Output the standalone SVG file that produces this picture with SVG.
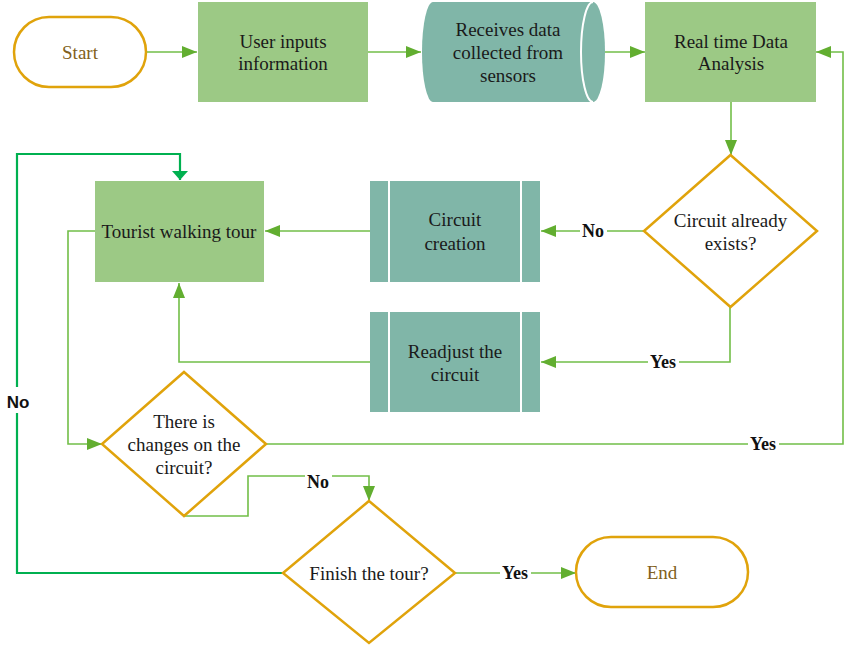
<svg xmlns="http://www.w3.org/2000/svg" width="850" height="663" viewBox="0 0 850 663">
<defs>
<marker id="ah" markerUnits="userSpaceOnUse" markerWidth="15" markerHeight="12" refX="15" refY="6" orient="auto">
<path d="M0,0 L15,6 L0,12 Z" fill="#62AE30"/>
</marker>
<marker id="ahd" markerUnits="userSpaceOnUse" markerWidth="9" markerHeight="16" refX="9" refY="8" orient="auto">
<path d="M0,0 L9,8 L0,16 Z" fill="#00B050"/>
</marker>
</defs>
<style>
.t{font-family:"Liberation Serif","Times New Roman",serif;font-size:19px;fill:#1a1a1a;text-anchor:middle;dominant-baseline:central}
.term{fill:#fff;stroke:#E0A30B;stroke-width:2.5}
.tt{fill:#7F6020}
.gbox{fill:#9CC985}
.teal{fill:#80B6A8}
.dia{fill:#fff;stroke:#E0A30B;stroke-width:2.5}
.sep{stroke:#fff;stroke-width:2}
.c{fill:none;stroke:#72BE48;stroke-width:1.6}
.cd{fill:none;stroke:#00B050;stroke-width:2.2}
.lb{font-family:"Liberation Serif","Times New Roman",serif;font-size:18px;font-weight:bold;fill:#111;text-anchor:middle;dominant-baseline:central}
.lbs{font-family:"Liberation Sans",Arial,sans-serif;font-size:17px;font-weight:bold;fill:#111;text-anchor:middle;dominant-baseline:central}
.bg{fill:#fff}
</style>
<rect width="850" height="663" fill="#fff"/>

<g id="connectors">
<path class="c" d="M146,52 H197" marker-end="url(#ah)"/>
<path class="c" d="M368,52 H421" marker-end="url(#ah)"/>
<path class="c" d="M605,52 H645" marker-end="url(#ah)"/>
<path class="c" d="M731,102 V155" marker-end="url(#ah)"/>
<path class="c" d="M644,231 H541" marker-end="url(#ah)"/>
<path class="c" d="M730,307 V362 H541" marker-end="url(#ah)"/>
<path class="c" d="M370,231 H265" marker-end="url(#ah)"/>
<path class="c" d="M370,362 H179 V283" marker-end="url(#ah)"/>
<path class="c" d="M95,231 H68 V444 H102" marker-end="url(#ah)"/>
<path class="c" d="M266,444 H843 V52 H816" marker-end="url(#ah)"/>
<path class="c" d="M184,516 H248 V476 H369 V501" marker-end="url(#ah)"/>
<path class="c" d="M455,573 H576" marker-end="url(#ah)"/>
<path class="cd" d="M283,573 H17 V154 H180 V180" marker-end="url(#ahd)"/>
<rect class="bg" x="580" y="221" width="27" height="20"/>
<text class="lb" x="593" y="231">No</text>
<rect class="bg" x="648" y="352" width="31" height="20"/>
<text class="lb" x="663" y="362">Yes</text>
<rect class="bg" x="748" y="434" width="31" height="20"/>
<text class="lb" x="763" y="444">Yes</text>
<rect class="bg" x="305" y="472" width="27" height="20"/>
<text class="lb" x="318" y="482">No</text>
<rect class="bg" x="500" y="563" width="31" height="20"/>
<text class="lb" x="515" y="573">Yes</text>
<rect class="bg" x="4" y="387" width="28" height="26"/>
<text class="lbs" x="18" y="402">No</text>
</g>

<g id="start">
<rect class="term" x="14" y="17" width="132" height="70" rx="35"/>
<text class="t tt" x="80" y="52">Start</text>
</g>

<g id="user-inputs">
<rect class="gbox" x="198" y="2" width="170" height="100"/>
<text class="t" x="283" y="41">User inputs</text>
<text class="t" x="283" y="63">information</text>
</g>

<g id="receives-data">
<path class="teal" d="M433,2 H593 A12,50 0 0 1 593,102 H433 A11,50 0 0 1 433,2 Z"/>
<path class="sep" fill="none" d="M593,2 A12,50 0 0 0 593,102"/>
<text class="t" x="508" y="29">Receives data</text>
<text class="t" x="508" y="52">collected from</text>
<text class="t" x="508" y="75">sensors</text>
</g>

<g id="real-time">
<rect class="gbox" x="645" y="2" width="171" height="100"/>
<text class="t" x="731" y="41">Real time Data</text>
<text class="t" x="731" y="63">Analysis</text>
</g>

<g id="circuit-exists">
<path class="dia" d="M730.5,155 L817,231 L730.5,307 L644,231 Z"/>
<text class="t" x="730.5" y="220">Circuit already</text>
<text class="t" x="730.5" y="243">exists?</text>
</g>

<g id="circuit-creation">
<rect class="teal" x="370" y="181" width="170" height="101"/>
<line class="sep" x1="389" y1="181" x2="389" y2="282"/>
<line class="sep" x1="521" y1="181" x2="521" y2="282"/>
<text class="t" x="455" y="219">Circuit</text>
<text class="t" x="455" y="243">creation</text>
</g>

<g id="readjust">
<rect class="teal" x="370" y="312" width="170" height="100"/>
<line class="sep" x1="389" y1="312" x2="389" y2="412"/>
<line class="sep" x1="521" y1="312" x2="521" y2="412"/>
<text class="t" x="455" y="351">Readjust the</text>
<text class="t" x="455" y="374">circuit</text>
</g>

<g id="tourist-tour">
<rect class="gbox" x="95" y="181" width="169" height="101"/>
<text class="t" x="179" y="231">Tourist walking tour</text>
</g>

<g id="changes">
<path class="dia" d="M184,372 L266,444 L184,516 L102,444 Z"/>
<text class="t" x="184" y="421">There is</text>
<text class="t" x="184" y="444">changes on the</text>
<text class="t" x="184" y="467">circuit?</text>
</g>

<g id="finish">
<path class="dia" d="M369,501 L455,573 L369,643 L283,573 Z"/>
<text class="t" x="369" y="573">Finish the tour?</text>
</g>

<g id="end">
<rect class="term" x="576" y="537" width="172" height="70" rx="35"/>
<text class="t tt" x="662" y="572">End</text>
</g>
</svg>
